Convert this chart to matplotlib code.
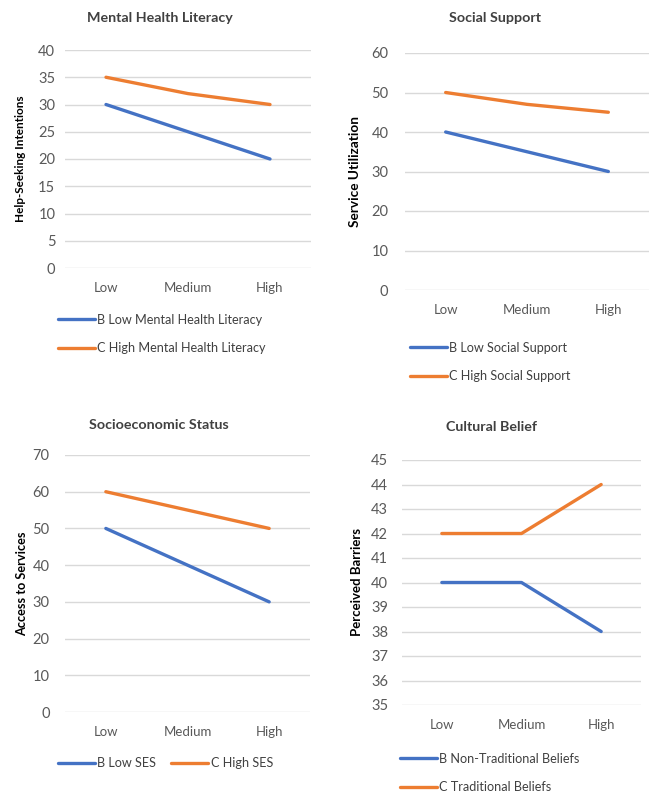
import matplotlib

matplotlib.use("Agg")
import matplotlib.pyplot as plt

plt.rcParams["font.family"] = ["Lato", "DejaVu Sans"]

# ---------------------------------------------------------------------------
# data
# ---------------------------------------------------------------------------
levels = ["Low", "Medium", "High"]

mhl_low = [30, 25, 20]
mhl_high = [35, 32, 30]

support_low = [40, 35, 30]
support_high = [50, 47, 45]

ses_low = [50, 40, 30]
ses_high = [60, 55, 50]

belief_nontrad = [40, 40, 38]
belief_trad = [42, 42, 44]

BLUE = "#4472C4"
ORANGE = "#ED7D31"
GRID = "#D9D9D9"
TICK = "#595959"
TEXT = "#404040"

W, H = 649, 794
fig = plt.figure(figsize=(W / 100, H / 100), dpi=100)


def px_axes(x0, y0, x1, y1):
    """axes from pixel box (top-left origin)"""
    return fig.add_axes([x0 / W, 1 - y1 / H, (x1 - x0) / W, (y1 - y0) / H])


def panel(box, b, c, names, ylim, step, title, title_xy, ylabel, ylabel_x,
          ypad, leg_xy, ncol=1, ylabel_size=8.5):
    ax = px_axes(*box)
    x = range(len(levels))
    ax.plot(x, b, color=BLUE, lw=2.4, solid_capstyle="round", label=names[0])
    ax.plot(x, c, color=ORANGE, lw=2.4, solid_capstyle="round", label=names[1])
    ax.set_xlim(-0.5, len(levels) - 0.5)
    ax.set_ylim(*ylim)
    ax.set_yticks(range(ylim[0], ylim[1] + 1, step))
    ax.set_xticks(list(x))
    ax.set_xticklabels(levels)
    ax.grid(axis="y", color=GRID, lw=1)
    ax.set_axisbelow(True)
    for s in ax.spines.values():
        s.set_visible(False)
    ax.tick_params(axis="both", length=0, colors=TICK)
    ax.tick_params(axis="y", labelsize=10.5, pad=ypad)
    ax.tick_params(axis="x", labelsize=9.5, pad=10)

    fig.text(title_xy[0] / W, 1 - title_xy[1] / H, title, ha="center",
             va="center", fontsize=10.3, fontweight="bold", color=TEXT)
    yc = (box[1] + box[3]) / 2
    fig.text(ylabel_x / W, 1 - yc / H, ylabel, rotation=90, ha="center",
             va="center", fontsize=ylabel_size, fontweight="bold", color="black")

    ax.legend(loc="center left", bbox_to_anchor=(leg_xy[0] / W, 1 - leg_xy[1] / H),
              bbox_transform=fig.transFigure, frameon=False, ncol=ncol,
              fontsize=9.1, handlelength=2.9, handletextpad=0.2,
              labelspacing=1.3, columnspacing=1.2, borderpad=0,
              borderaxespad=0, labelcolor=TEXT)
    return ax


panel((65, 50, 311, 268), mhl_low, mhl_high,
      ["B Low Mental Health Literacy", "C High Mental Health Literacy"],
      (0, 40), 5, "Mental Health Literacy", (160, 18),
      "Help-Seeking Intentions", 21, 7, (58, 334))

panel((405, 53, 649, 290), support_low, support_high,
      ["B Low Social Support", "C High Social Support"],
      (0, 60), 10, "Social Support", (495, 18),
      "Service Utilization", 355, 12, (410, 362), ylabel_size=9.8)

panel((65, 455, 310, 712), ses_low, ses_high,
      ["B Low SES", "C High SES"],
      (0, 70), 10, "Socioeconomic Status", (159, 425),
      "Access to Services", 22, 11, (58, 763), ncol=2, ylabel_size=9.2)

panel((402, 460, 641, 705), belief_nontrad, belief_trad,
      ["B Non-Traditional Beliefs", "C Traditional Beliefs"],
      (35, 45), 1, "Cultural Belief", (492, 427),
      "Perceived Barriers", 357, 10, (400, 773), ylabel_size=9.5)

fig.savefig("out.png", dpi=100)
